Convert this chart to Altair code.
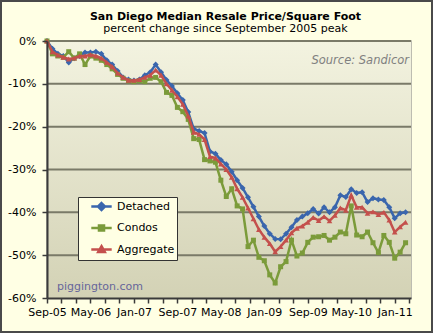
import json
import altair as alt
import pandas as pd

# ---------------- data ----------------
months = list(pd.date_range("2005-09-01", periods=67, freq="MS").strftime("%b-%y"))
series_names = ["Detached", "Condos", "Aggregate"]

detached = [0, -1.8, -3.0, -3.5, -5.0, -4.0, -3.5, -2.7, -2.7, -2.5,
            -3.0, -4.5, -5.5, -7.0, -8.5, -9.0, -9.2, -9.0, -8.0, -7.3,
            -5.5, -7.3, -9.1, -10.5, -12.2, -13.8, -16.6, -20.5, -21.0, -21.5,
            -25.8, -26.3, -27.8, -28.8, -30.5, -32.5, -34.3, -36.5, -38.7, -41.0,
            -43.2, -45.0, -46.2, -46.3, -45.0, -43.5, -41.8, -41.0, -40.2, -39.2,
            -40.3, -38.8, -40.0, -38.8, -36.0, -36.4, -34.6, -35.5, -35.3, -37.6,
            -36.7, -37.0, -37.1, -38.8, -41.4, -40.2, -40.0]
condos = [0, -3.0, -3.5, -3.8, -2.5, -4.0, -3.0, -5.5, -3.5, -4.0,
          -4.5, -5.5, -6.5, -7.8, -8.7, -9.3, -9.5, -9.3, -9.5, -8.7,
          -8.5, -9.5, -12.0, -12.7, -15.5, -16.5, -18.3, -22.8, -23.0, -27.7,
          -28.0, -28.3, -32.5, -36.3, -34.5, -38.5, -39.2, -48.0, -46.5, -50.5,
          -51.3, -54.6, -56.5, -52.7, -51.5, -46.5, -50.2, -49.5, -47.0, -45.8,
          -45.7, -45.4, -46.5, -45.8, -44.6, -45.0, -38.5, -45.3, -45.7, -44.6,
          -47.1, -49.4, -45.4, -47.0, -50.7, -49.3, -47.1]
aggregate = [0, -2.5, -3.3, -3.8, -4.2, -4.0, -3.5, -3.5, -3.2, -3.5,
             -4.0, -5.0, -6.0, -7.5, -8.5, -9.2, -9.2, -9.0, -8.5, -8.0,
             -6.8, -8.0, -10.0, -11.5, -13.0, -14.8, -17.5, -21.3, -21.8, -23.0,
             -27.0, -27.3, -28.7, -30.0, -31.8, -34.5, -36.5, -39.0, -41.5, -44.0,
             -45.8, -47.3, -49.2, -48.0, -46.5, -44.8, -43.7, -43.2, -42.3, -41.2,
             -41.9, -41.0, -42.0, -40.7, -39.0, -39.5, -36.0, -38.8, -38.8, -40.2,
             -39.9, -40.5, -40.0, -41.8, -44.6, -43.4, -42.3]
grid_values = [0, -10, -20, -30, -40, -50]

title_text = "San Diego Median Resale Price/Square Foot"
subtitle_text = "percent change since September 2005 peak"

colors = ["#3A66AD", "#7B9B3A", "#C4504C"]
shapes = ["diamond", "square", "triangle-up"]
sizes = [36, 25, 32]
legend_paths = [
    "M-1.7,0L1.7,0M0,-0.58L0.58,0L0,0.58L-0.58,0Z",
    "M-1.7,0L1.7,0M-0.42,-0.42L0.42,-0.42L0.42,0.42L-0.42,0.42Z",
    "M-1.7,0L1.7,0M0,-0.55L0.55,0.42L-0.55,0.42Z",
]

rows = []
for name, vals in zip(series_names, [detached, condos, aggregate]):
    for i, v in enumerate(vals):
        rows.append({"idx": i, "month": months[i], "series": name, "value": v})
df = pd.DataFrame(rows)

# ---------------- layout ----------------
W, H = 364, 257
FONT = "DejaVu Sans"
AXIS_COLOR = "#3A3A3A"
GRID_COLOR = "#7A7A68"

major_labels = months[::8]
tick_vals = [k * 8 / 3 for k in range(26)]
label_expr = ("abs(datum.value/8 - round(datum.value/8)) < 0.01 ? "
              + json.dumps(major_labels) + "[round(datum.value/8)] : ''")

x_enc = alt.X("idx:Q",
              scale=alt.Scale(domain=[0, 67], nice=False, zero=False),
              axis=alt.Axis(values=tick_vals, labelExpr=label_expr, title=None,
                            grid=False, labelOverlap=False, labelFlush=False,
                            labelFont=FONT, labelFontSize=11, labelColor="black",
                            labelPadding=3, tickSize=5, tickColor=AXIS_COLOR,
                            tickWidth=1.5, domainColor=AXIS_COLOR, domainWidth=2,
                            zindex=1))
y_enc = alt.Y("value:Q",
              scale=alt.Scale(domain=[-60, 0], nice=False, zero=False),
              axis=alt.Axis(values=list(range(-60, 1, 10)),
                            labelExpr="datum.value + '%'", title=None, grid=False,
                            labelFont=FONT, labelFontSize=11, labelColor="black",
                            labelPadding=6, tickSize=5, tickColor=AXIS_COLOR,
                            tickWidth=1.5, domainColor=AXIS_COLOR, domainWidth=2,
                            zindex=1))

bg = alt.Chart(pd.DataFrame({"a": [0]})).mark_rect(
    color=alt.LinearGradient(
        gradient="linear",
        stops=[alt.GradientStop(offset=0, color="#F3F3E0"),
               alt.GradientStop(offset=1, color="#D3D2B5")],
        x1=0, x2=0, y1=0, y2=1),
).encode(x=alt.value(0), x2=alt.value(W), y=alt.value(0), y2=alt.value(H))

grid = alt.Chart(pd.DataFrame({"value": grid_values})).mark_rule(
    color=GRID_COLOR, strokeWidth=2).encode(y=y_enc)

legend = alt.Legend(
    title=None, orient="none", legendX=31, legendY=156, direction="vertical",
    fillColor="#FFFFE4", strokeColor="#333333", padding=2,
    labelFont=FONT, labelFontSize=11, labelColor="black",
    symbolSize=144, symbolStrokeWidth=2.5, symbolOffset=14, symbolOpacity=1,
    labelOffset=8, rowPadding=4.5,
)

layers = [bg, grid]
for name, c, shp, sz in zip(series_names, colors, shapes, sizes):
    base = alt.Chart(df).transform_filter(alt.datum.series == name)
    line = base.mark_line(strokeWidth=2.5, color=c).encode(x=x_enc, y=y_enc)
    pts = base.mark_point(filled=True, shape=shp, size=sz, color=c, opacity=1).encode(
        x=x_enc, y=y_enc)
    layers += [line, pts]

# invisible layer that only carries the legend
legend_carrier = alt.Chart(df).mark_point(opacity=0, strokeWidth=2.5).encode(
    x=x_enc, y=y_enc,
    fill=alt.Fill("series:N", scale=alt.Scale(domain=series_names, range=colors), legend=legend),
    stroke=alt.Stroke("series:N", scale=alt.Scale(domain=series_names, range=colors), legend=legend),
    shape=alt.Shape("series:N", scale=alt.Scale(domain=series_names, range=legend_paths), legend=legend),
)

def text_layer(txt, x, y, align="center", **kw):
    return alt.Chart(pd.DataFrame({"t": [txt]})).mark_text(
        align=align, baseline="alphabetic", font=FONT, **kw).encode(
        x=alt.value(x), y=alt.value(y), text="t:N")

title_lyr = text_layer(title_text, 178.5, -21, fontSize=11, fontWeight="bold", color="black")
subtitle_lyr = text_layer(subtitle_text, 178.5, -9.3, fontSize=11, color="black")
source_txt = text_layer("Source: Sandicor", W - 2, 23, align="right", fontSize=11.5,
                        fontStyle="italic", color="#808080")
site_txt = text_layer("piggington.com", 10, 249, align="left", fontSize=11, color="#66669A")

frame = alt.Chart(pd.DataFrame({"a": [0]})).mark_rect(
    fill=None, stroke="#4A4A4A", strokeWidth=2).encode(
    x=alt.value(-46), x2=alt.value(W + 21), y=alt.value(-40), y2=alt.value(H + 34))

layers += [legend_carrier, title_lyr, subtitle_lyr, source_txt, site_txt, frame]

chart = alt.layer(*layers).properties(
    width=W, height=H,
    autosize=alt.AutoSizeParams(type="none"),
    padding={"left": 47, "top": 41, "right": 22, "bottom": 35},
    background="#FFFFE4",
).configure_view(stroke="#A8A8A0", strokeWidth=1.5)

chart.save("out.html", embed_options={"renderer": "svg", "actions": False})
